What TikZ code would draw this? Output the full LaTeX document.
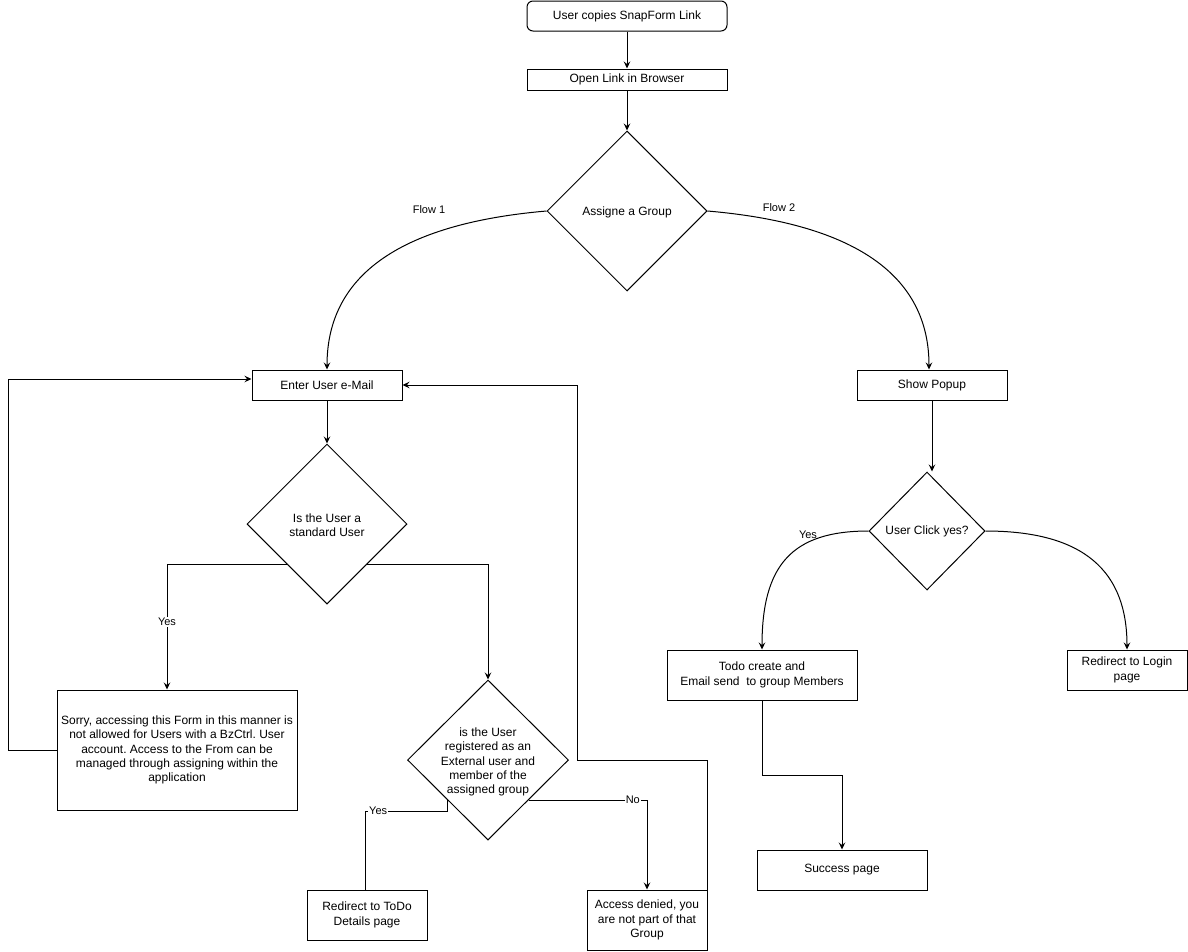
\documentclass[tikz,border=0pt]{standalone}
\usepackage{fontspec}
\setmainfont{Liberation Sans}
\frenchspacing
\usetikzlibrary{arrows.meta,shapes.geometric}
\begin{document}
\begin{tikzpicture}[x=1pt,y=-1pt,
  every node/.style={font=\fontsize{12}{14.4}\selectfont},
  box/.style={draw,line width=1pt,inner sep=0pt,align=center},
  dia/.style={draw,diamond,aspect=1,line width=1pt,inner sep=0pt},
  txt/.style={align=center,inner sep=0pt},
  elab/.style={font=\fontsize{11}{13}\selectfont,inner sep=1pt},
  line/.style={line width=1pt},
  arr/.style={line width=1pt,-{Stealth[length=7pt,width=6.5pt,inset=2.5pt]}}]
\useasboundingbox (0,0) rectangle (1188,951);

% nodes
\node[box,rounded corners=6pt,minimum width=200pt,minimum height=30pt] (n1) at (627,16) {User copies SnapForm Link};
\node[box,minimum width=200pt,minimum height=21pt] (n2) at (627,79.5) {Open Link in Browser};
\node[dia,minimum width=160pt,minimum height=160pt] (d1) at (627,211) {};
\node[txt] (d1t) at (627,212) {Assigne a Group};

\node[box,minimum width=150pt,minimum height=30pt] (enter) at (327,385) {Enter User e-Mail};
\node[box,minimum width=150pt,minimum height=30pt] (popup) at (932,385) {Show Popup};

\node[dia,minimum width=160pt,minimum height=160pt] (d2) at (327,524) {};
\node[txt] (d2t) at (327,525) {Is the User a\\standard User};

\node[box,minimum width=240pt,minimum height=120pt] (sorry) at (177,750) {Sorry, accessing this Form in this manner is\\not allowed for Users with a BzCtrl. User\\account. Access to the From can be\\managed through assigning within the\\application};

\node[dia,minimum width=161pt,minimum height=160pt] (d3) at (488,760) {};
\node[txt] (d3t) at (488,762) {is the User\\registered as an\\External user and\\member of the\\assigned group};

\node[box,minimum width=120pt,minimum height=50pt] (redir) at (367,915) {Redirect to ToDo\\Details page};
\node[box,minimum width=120pt,minimum height=60pt] (access) at (647,920) {Access denied, you\\are not part of that\\Group};

\node[dia,minimum width=116pt,minimum height=118pt] (d4) at (927,531) {};
\node[txt] (d4t) at (927,531) {User Click yes?};

\node[box,minimum width=190pt,minimum height=50pt] (todo) at (762,675) {Todo create and\\Email send\ \ to group Members};
\node[box,minimum width=120pt,minimum height=40pt] (login) at (1127,670) {Redirect to Login\\page};
\node[box,minimum width=170pt,minimum height=40pt] (success) at (842,870) {Success page};

% labels
\node[elab] (f1) at (429,210) {Flow 1};
\node[elab] (f2) at (779,208) {Flow 2};
\node[elab] (y4) at (808,535) {Yes};

% connectors
\draw[arr] (n1) -- (n2);
\draw[arr] (n2) -- (d1.north);
\draw[arr] (d1.west) .. controls (385,225) and (327,285) .. (enter.north);
\draw[arr] (d1.east) .. controls (870,225) and (929,285) .. ([xshift=-3pt]popup.north);
\draw[arr] (enter) -- (d2.north);
\draw[arr] (d2.south west) -| node[elab,fill=white,pos=0.73] (y1) {Yes} ([xshift=-10pt]sorry.north);
\draw[arr] (d2.south east) -| (d3.north);
\draw[arr] (sorry.west) -| (8,379) -- ([yshift=6pt]enter.west);
\draw[line] (d3.south west) -- ++(0,11) -| node[elab,fill=white,pos=0.42] (y2) {Yes} ([xshift=-2pt]redir.north);
\draw[arr] (d3.south east) -| node[elab,fill=white,pos=0.44] (no) {No} (access.north);
\draw[arr] (access.north east) |- (577,760) |- (enter.east);
\draw[arr] (popup.south) -- (popup.south |- d4.north);
\draw[arr] (d4.west) .. controls (792,531) and (762,565) .. (todo.north);
\draw[arr] (d4.east) .. controls (1085,531) and (1127,572) .. (login.north);
\draw[arr] (todo.south) -- ++(0,75) -| (success.north);
\end{tikzpicture}
\end{document}
